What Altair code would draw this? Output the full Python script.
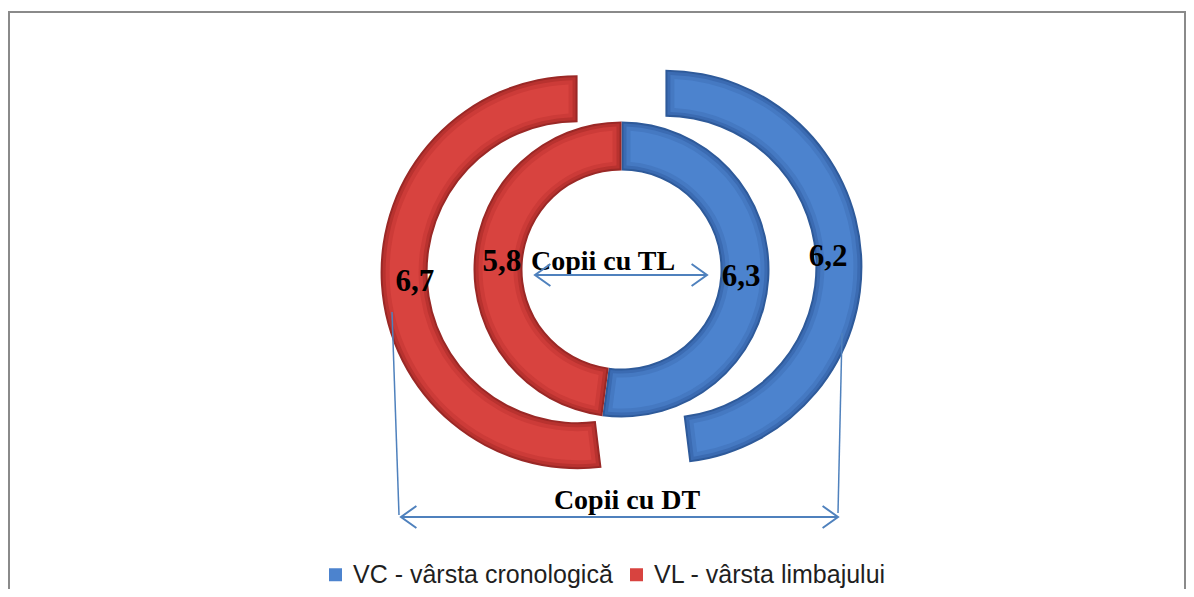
import math
import altair as alt
import pandas as pd

# ---------------- data ----------------
categories = ["VC - vârsta cronologică", "VL - vârsta limbajului"]
tl_values = [6.3, 5.8]   # Copii cu TL  (inner ring)
dt_values = [6.2, 6.7]   # Copii cu DT  (outer ring, exploded)
ring_titles = ["Copii cu TL", "Copii cu DT"]


def fmt(v):
    return f"{v:.1f}".replace(".", ",")


def ring_df(vals):
    return pd.DataFrame({
        "cat": categories,
        "val": vals,
        "ord": list(range(len(vals))),
        "label": [fmt(v) for v in vals],
    })


inner = ring_df(tl_values)
outer = ring_df(dt_values)

# ---------------- layout / style ----------------
W, H = 1178, 578
CX, CY = 613.5, 258.5
IN_R0, IN_R1 = 99, 148
OUT_R0, OUT_R1 = 150, 197
EXPLODE = 44
BLUE = ["#2E5A9A", "#3B6BB2", "#4579C2", "#4C83CE"]
RED = ["#9A2826", "#B8322F", "#CC3B38", "#D8433F"]
INSETS = [0, 2, 5, 9]
ARROW = "#4F81BD"
SERIF = "Liberation Serif"
SANS = "Liberation Sans"

theta = alt.Theta("val:Q", stack="normalize")
order = alt.Order("ord:Q")
is_vc = alt.datum.cat == categories[0]
is_vl = alt.datum.cat == categories[1]

# explode offsets along each outer slice's bisector
tot = sum(dt_values)
mids, cum = [], 0.0
for v in dt_values:
    mids.append(2 * math.pi * (cum + v / 2) / tot)
    cum += v
offsets = [(EXPLODE * math.sin(a), -EXPLODE * math.cos(a)) for a in mids]

legend = alt.Legend(
    title=None, orient="none", legendX=315, legendY=551, direction="horizontal",
    symbolType="square", symbolSize=169, symbolStrokeWidth=0, labelFont=SANS,
    labelFontSize=25, labelColor="#1f1f1f", labelOffset=5, columnPadding=11,
    padding=0, labelLimit=500,
)

layers = []
for lvl, ins in enumerate(INSETS):
    last = lvl == len(INSETS) - 1
    # inner ring
    r0, r1 = IN_R0 + ins, IN_R1 - ins
    pad = 2 * ins / math.hypot(r0, r1)
    if last:
        col = alt.Color("cat:N", scale=alt.Scale(domain=categories, range=[BLUE[lvl], RED[lvl]]),
                        legend=legend)
    else:
        col = alt.condition(is_vc, alt.value(BLUE[lvl]), alt.value(RED[lvl]))
    layers.append(
        alt.Chart(inner).mark_arc(innerRadius=r0, outerRadius=r1, padAngle=pad).encode(
            theta=theta, order=order, detail="cat:N", color=col,
            x=alt.value(CX), y=alt.value(CY),
        )
    )
    # outer ring, each slice shifted along its bisector
    r0, r1 = OUT_R0 + ins, OUT_R1 - ins
    pad = 2 * ins / math.hypot(r0, r1)
    for k, cond in enumerate([is_vc, is_vl]):
        layers.append(
            alt.Chart(outer).mark_arc(innerRadius=r0, outerRadius=r1, padAngle=pad).encode(
                theta=theta, order=order, detail="cat:N",
                color=alt.condition(is_vc, alt.value(BLUE[lvl]), alt.value(RED[lvl])),
                opacity=alt.condition(cond, alt.value(1), alt.value(0)),
                x=alt.value(CX + offsets[k][0]), y=alt.value(CY + offsets[k][1]),
            )
        )

# value labels
layers.append(
    alt.Chart(inner).mark_text(radius=120, font=SERIF, fontSize=31, fontWeight="bold",
                               color="black", baseline="middle").encode(
        theta=theta, order=order, detail="cat:N", text="label:N",
        x=alt.value(CX), y=alt.value(CY),
    )
)
for k, cond in enumerate([is_vc, is_vl]):
    layers.append(
        alt.Chart(outer).mark_text(radius=163, font=SERIF, fontSize=31, fontWeight="bold",
                                   color="black", baseline="middle").encode(
            theta=theta, order=order, detail="cat:N", text="label:N",
            opacity=alt.condition(cond, alt.value(1), alt.value(0)),
            x=alt.value(CX + offsets[k][0]), y=alt.value(CY + offsets[k][1]),
        )
    )

one = alt.Data(values=[{}])

# ring titles
for t, (tx, ty) in zip(ring_titles, [(595, 259), (619, 498)]):
    layers.append(
        alt.Chart(one).mark_text(text=t, font=SERIF, fontSize=28, fontWeight="bold",
                                 color="black", baseline="alphabetic").encode(
            x=alt.value(tx), y=alt.value(ty)
        )
    )

# arrows
def hline(x1, x2, y):
    return alt.Chart(one).mark_rule(color=ARROW, strokeWidth=2).encode(
        x=alt.value(x1), x2=alt.value(x2), y=alt.value(y))


def seg(x1, y1, x2, y2):
    return alt.Chart(one).mark_rule(color=ARROW, strokeWidth=1.5).encode(
        x=alt.value(x1), x2=alt.value(x2), y=alt.value(y1), y2=alt.value(y2))


def head(x, y, left):
    shape = "M1.4,-1L0,0L1.4,1" if left else "M-1.4,-1L0,0L-1.4,1"
    return alt.Chart(one).mark_point(shape=shape, size=484, filled=False, color=ARROW,
                                     strokeWidth=2, opacity=1).encode(
        x=alt.value(x), y=alt.value(y))


layers += [
    hline(527, 699, 264), head(527, 264, True), head(699, 264, False),
    hline(393, 830, 506), head(393, 506, True), head(830, 506, False),
    seg(384, 301, 391, 504), seg(834, 322, 830, 502),
]

# outer frame (left, top, right)
frame = "#8a8a8a"
layers += [
    alt.Chart(one).mark_rule(color=frame, strokeWidth=2).encode(
        x=alt.value(1), y=alt.value(0), y2=alt.value(H + 10)),
    alt.Chart(one).mark_rule(color=frame, strokeWidth=2).encode(
        x=alt.value(0), x2=alt.value(W), y=alt.value(1)),
    alt.Chart(one).mark_rule(color=frame, strokeWidth=2).encode(
        x=alt.value(W - 1), y=alt.value(0), y2=alt.value(H + 10)),
]

chart = alt.layer(*layers).properties(
    width=W, height=H,
    autosize=alt.AutoSizeParams(type="none"),
    padding={"left": 0, "top": 3, "right": 0, "bottom": 0},
).configure_view(stroke=None)

chart.save("out.html", embed_options={"renderer": "svg", "actions": False})
